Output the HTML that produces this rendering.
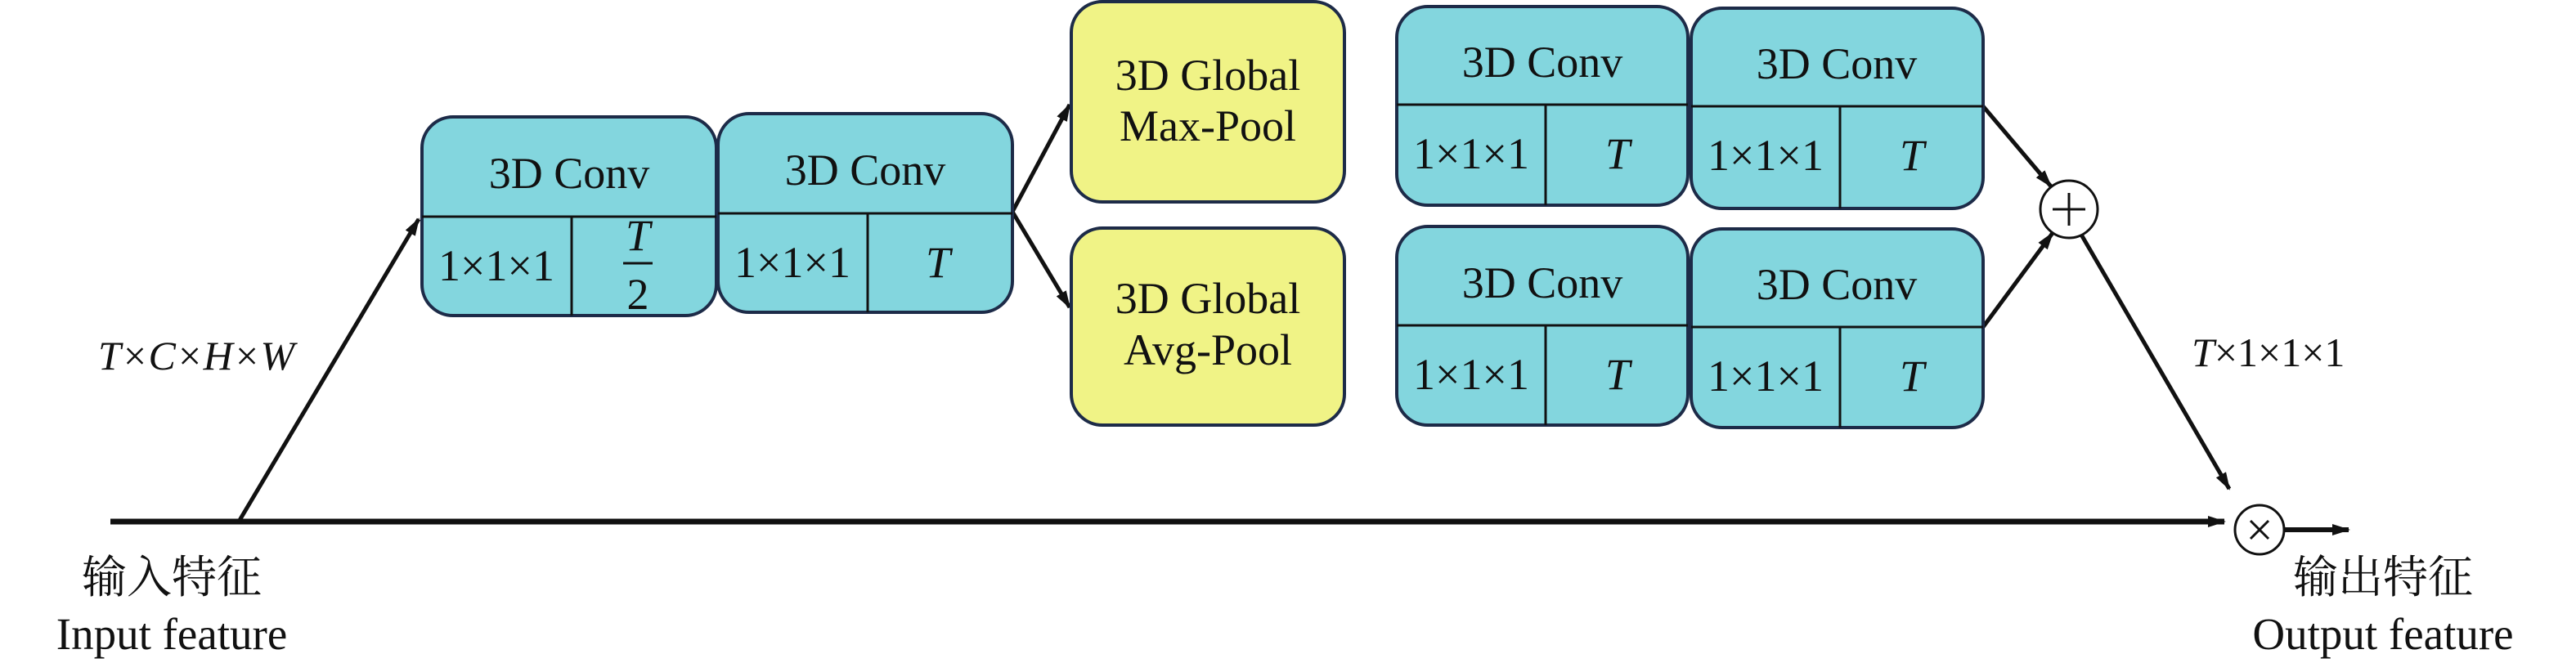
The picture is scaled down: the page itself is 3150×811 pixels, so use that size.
<!DOCTYPE html>
<html><head><meta charset="utf-8"><style>html,body{margin:0;padding:0;background:#fff}svg{display:block}</style></head>
<body>
<svg width="3150" height="811" viewBox="0 0 3150 811" xmlns="http://www.w3.org/2000/svg" font-family="'Liberation Serif','Noto Serif CJK SC',serif" fill="#111">
<defs>
<marker id="a" markerWidth="22" markerHeight="16" refX="20" refY="8" orient="auto" markerUnits="userSpaceOnUse"><path d="M0,1 L22,8 L0,15 Z" fill="#111"/></marker>
</defs>
<g stroke="#111" stroke-width="5" fill="none">
<line x1="135" y1="638" x2="2720" y2="638" stroke-width="7" marker-end="url(#a)"/>
<line x1="292" y1="638" x2="512" y2="268" marker-end="url(#a)"/>
<line x1="1238" y1="259" x2="1308" y2="128" marker-end="url(#a)"/>
<line x1="1238" y1="259" x2="1308" y2="376" marker-end="url(#a)"/>
<line x1="2425" y1="130" x2="2508" y2="228" marker-end="url(#a)"/>
<line x1="2425" y1="400" x2="2510" y2="285" marker-end="url(#a)"/>
<line x1="2545" y1="287" x2="2726" y2="598" marker-end="url(#a)"/>
<line x1="2793" y1="648" x2="2872" y2="648" stroke-width="6" marker-end="url(#a)"/>
</g>
<g stroke="#1d2b48" stroke-width="4">
<rect x="516" y="143" width="360" height="243" rx="38" fill="#83D6DE"/>
<rect x="878" y="139" width="360" height="243" rx="38" fill="#83D6DE"/>
<rect x="1310" y="2" width="334" height="245" rx="38" fill="#F0F386"/>
<rect x="1310" y="279" width="334" height="241" rx="38" fill="#F0F386"/>
<rect x="1708" y="8" width="356" height="243" rx="38" fill="#83D6DE"/>
<rect x="2068" y="10" width="357" height="245" rx="38" fill="#83D6DE"/>
<rect x="1708" y="277" width="356" height="243" rx="38" fill="#83D6DE"/>
<rect x="2068" y="280" width="357" height="243" rx="38" fill="#83D6DE"/>
</g>
<g stroke="#111" stroke-width="3">
<line x1="516" y1="265" x2="876" y2="265"/><line x1="699" y1="265" x2="699" y2="386"/>
<line x1="878" y1="261" x2="1238" y2="261"/><line x1="1061" y1="261" x2="1061" y2="382"/>
<line x1="1708" y1="128" x2="2064" y2="128"/><line x1="1890" y1="128" x2="1890" y2="251"/>
<line x1="2068" y1="130" x2="2425" y2="130"/><line x1="2250" y1="130" x2="2250" y2="255"/>
<line x1="1708" y1="398" x2="2064" y2="398"/><line x1="1890" y1="398" x2="1890" y2="520"/>
<line x1="2068" y1="400" x2="2425" y2="400"/><line x1="2250" y1="400" x2="2250" y2="523"/>
</g>
<g font-size="54" text-anchor="middle">
<text x="696" y="230">3D Conv</text>
<text x="1058" y="226">3D Conv</text>
<text x="1886" y="94">3D Conv</text>
<text x="2246" y="96">3D Conv</text>
<text x="1886" y="364">3D Conv</text>
<text x="2246" y="366">3D Conv</text>
<text x="1477" y="110">3D Global</text>
<text x="1477" y="172">Max-Pool</text>
<text x="1477" y="383">3D Global</text>
<text x="1477" y="446">Avg-Pool</text>
<text x="607" y="343">1×1×1</text>
<text x="969" y="339">1×1×1</text>
<text x="1799" y="206">1×1×1</text>
<text x="2159" y="208">1×1×1</text>
<text x="1799" y="476">1×1×1</text>
<text x="2159" y="478">1×1×1</text>
<g font-style="italic">
<text x="780" y="306">T</text>
<text x="1147" y="339">T</text>
<text x="1978" y="206">T</text>
<text x="2338" y="208">T</text>
<text x="1978" y="476">T</text>
<text x="2338" y="478">T</text>
</g>
<text x="780" y="378">2</text>
</g>
<line x1="762" y1="322" x2="798" y2="322" stroke="#111" stroke-width="3"/>
<g stroke="#111" stroke-width="3" fill="#fff">
<circle cx="2530" cy="256" r="35"/>
<circle cx="2763" cy="648" r="30"/>
</g>
<g stroke="#111" stroke-width="3">
<line x1="2530" y1="236" x2="2530" y2="276"/><line x1="2510" y1="256" x2="2550" y2="256"/>
<line x1="2752" y1="637" x2="2774" y2="659"/><line x1="2774" y1="637" x2="2752" y2="659"/>
</g>
<g font-size="50">
<text x="120" y="452" font-style="italic">T×C×H×W</text>
<text x="2680" y="448"><tspan font-style="italic">T</tspan>×1×1×1</text>
</g>
<g font-size="55" text-anchor="middle">
<text x="210" y="725">输入特征</text>
<text x="210" y="794">Input feature</text>
<text x="2914" y="725">输出特征</text>
<text x="2914" y="794">Output feature</text>
</g>
</svg>
</body></html>
